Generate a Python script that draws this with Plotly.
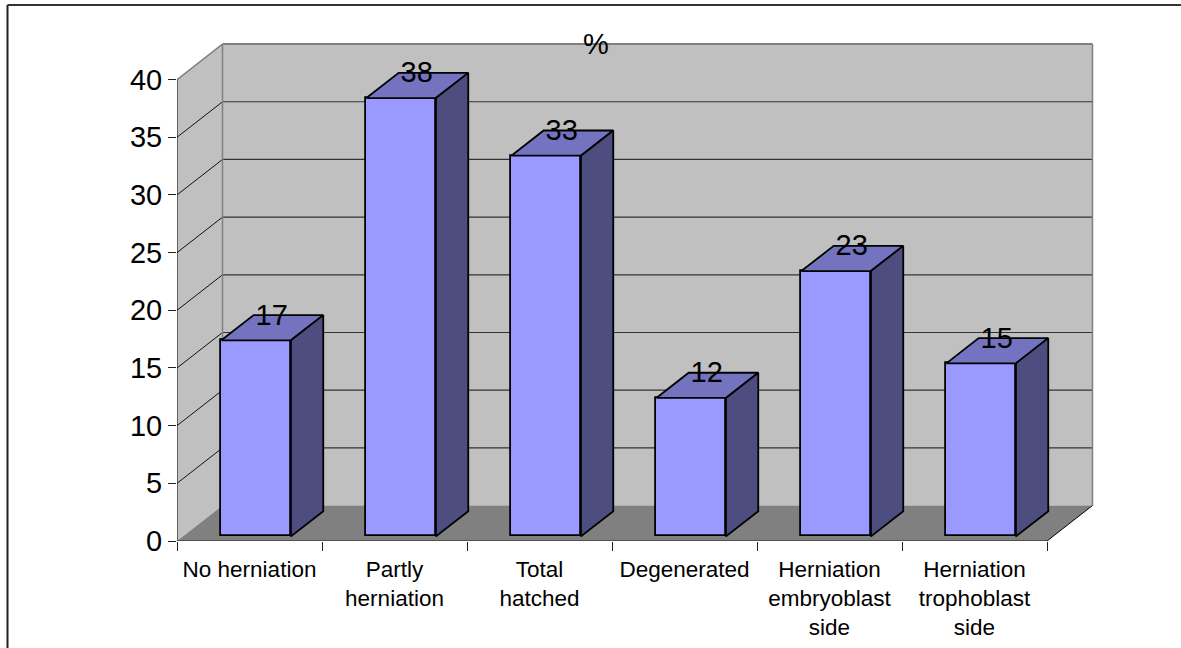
import plotly.graph_objects as go

categories = ["No herniation", "Partly<br>herniation", "Total<br>hatched", "Degenerated",
              "Herniation<br>embryoblast<br>side", "Herniation<br>trophoblast<br>side"]
values = [17, 38, 33, 12, 23, 15]
y_ticks = [0, 5, 10, 15, 20, 25, 30, 35, 40]

FONT = "Liberation Sans, Arial, sans-serif"
W, H = 1181, 648
PX_X0, PX_Y0 = 177.0, 541.2     # pixel of category edge -0.5 and value 0
UX, UY = 145.0, 11.54           # px per category, px per value unit
PX_R, PX_T = 1100.0, 30.0       # plot area right/top pixels
DX, DY = 45.5 / UX, 35.5 / UY   # depth of the chart box in axis units
T0, T1 = 0.13, 0.84             # bar start/end along the depth
BW = 0.48

x_lo = -0.5
x_hi = x_lo + (PX_R - PX_X0) / UX
y_hi = (PX_Y0 - PX_T) / UY
n = len(categories)
x_end = x_lo + n

WALL, FLOOR, EDGE = "#C0C0C0", "#808080", "#808080"
FRONT, TOP, SIDE = "#9999FF", "#7373BF", "#4D4D80"
LINE = "#000000"


def poly(xs, ys, fill, color=None, width=0):
    path = "M " + " L ".join(f"{a},{b}" for a, b in zip(xs, ys)) + " Z"
    return dict(type="path", path=path, xref="x", yref="y", fillcolor=fill, layer="below",
                line=dict(color=color or fill, width=width))


def seg(x0, y0, x1, y1, color=LINE, width=1, layer="below"):
    return dict(type="line", xref="x", yref="y", x0=x0, y0=y0, x1=x1, y1=y1, layer=layer,
                line=dict(color=color, width=width))


top = y_ticks[-1]
shapes = [
    poly([x_lo, x_lo + DX, x_lo + DX, x_lo], [0, DY, top + DY, top], WALL),
    poly([x_lo + DX, x_end + DX, x_end + DX, x_lo + DX], [DY, DY, top + DY, top + DY], WALL),
    poly([x_lo, x_end, x_end + DX, x_lo + DX], [0, 0, DY, DY], FLOOR),
]
for t in y_ticks[1:-1]:
    shapes.append(seg(x_lo, t, x_lo + DX, t + DY, "#111111", 1))
    shapes.append(seg(x_lo + DX, t + DY, x_end + DX, t + DY, "#333333", 1.2))
shapes += [
    seg(x_lo, top, x_lo + DX, top + DY, EDGE, 1.5),
    seg(x_lo + DX, top + DY, x_end + DX, top + DY, EDGE, 2),
    seg(x_lo + DX, DY, x_lo + DX, top + DY, EDGE, 1.5),
    seg(x_end + DX, DY, x_end + DX, top + DY, EDGE, 1.5),
    seg(x_lo, 0, x_lo, top, LINE, 1),
    seg(x_lo, 0, x_end, 0, "#222222", 1.2),
    seg(x_end, 0, x_end + DX, DY, LINE, 1),
]
# outer border of the picture
bx = (7.5 - PX_X0) / (PX_R - PX_X0)
by = (PX_Y0 - 5) / (PX_Y0 - PX_T)
shapes += [
    dict(type="line", xref="paper", yref="paper", x0=bx, x1=bx, y0=-0.3, y1=by,
         line=dict(color="#222222", width=2)),
    dict(type="line", xref="paper", yref="paper", x0=bx, x1=(W - PX_X0) / (PX_R - PX_X0), y0=by, y1=by,
         line=dict(color="#333333", width=2)),
]

xs = [i + T0 * DX + 0.005 for i in range(n)]
base = T0 * DY
dx = (T1 - T0) * DX
dy = (T1 - T0) * DY

fig = go.Figure()
fig.add_trace(go.Bar(x=xs, y=values, base=base, width=BW, marker=dict(color=FRONT, line=dict(color=LINE, width=1.8)),
                     showlegend=False, hoverinfo="skip"))

for x, v in zip(xs, values):
    l, r, h = x - BW / 2, x + BW / 2, base + v
    fig.add_trace(go.Scatter(x=[l, r, r + dx, l + dx, l], y=[h, h, h + dy, h + dy, h], mode="lines", fill="toself",
                             fillcolor=TOP, line=dict(color=LINE, width=1.8), showlegend=False, hoverinfo="skip"))
    fig.add_trace(go.Scatter(x=[r, r + dx, r + dx, r, r], y=[h, h + dy, base + dy, base, h], mode="lines", fill="toself",
                             fillcolor=SIDE, line=dict(color=LINE, width=1.8), showlegend=False, hoverinfo="skip"))

fig.add_trace(go.Scatter(x=[x + 15.5 / UX for x in xs], y=[base + v + 23 / UY for v in values],
                         text=[str(v) for v in values], mode="text", textposition="middle center",
                         textfont=dict(family=FONT, size=29, color="#000000"),
                         cliponaxis=False, showlegend=False, hoverinfo="skip"))

fig.update_layout(
    width=W, height=H, autosize=False, paper_bgcolor="#FFFFFF", plot_bgcolor="rgba(0,0,0,0)",
    margin=dict(l=PX_X0, r=W - PX_R, t=PX_T, b=H - PX_Y0, pad=0, autoexpand=False),
    font=dict(family=FONT, color="#000000"),
    title=dict(text="%", x=596 / W, y=1 - 44 / H, xref="container", yref="container", xanchor="center", yanchor="middle",
               font=dict(family=FONT, size=29, color="#000000"), automargin=False),
    shapes=shapes, showlegend=False, bargap=0,
    xaxis=dict(range=[x_lo, x_hi], tickmode="array", tickvals=list(range(n)), ticktext=categories,
               ticks="", showgrid=False, zeroline=False, showline=False, tickangle=0, automargin=False,
               ticklabelstandoff=12, tickfont=dict(family=FONT, size=22.5, color="#000000"),
               minor=dict(ticks="outside", tickmode="array", tickvals=[x_lo + i for i in range(n + 1)],
                          ticklen=9, tickwidth=1, tickcolor="#222222", showgrid=False)),
    yaxis=dict(range=[0, y_hi], tickmode="array", tickvals=y_ticks, ticks="outside", ticklen=8, tickwidth=1,
               tickcolor="#222222", showgrid=False, zeroline=False, showline=False, automargin=False,
               ticklabelstandoff=0, tickfont=dict(family=FONT, size=29, color="#000000")),
)

fig.write_html("out.html", config=dict(displayModeBar=False, responsive=False),
               post_script="document.body.style.margin='0';document.body.style.overflow='hidden';")
